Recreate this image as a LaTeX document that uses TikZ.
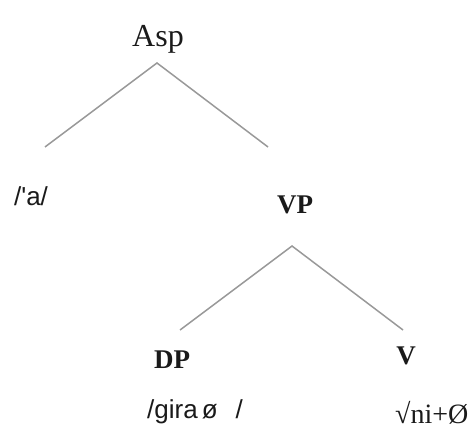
\documentclass[tikz,border=0pt]{standalone}
\usepackage{fontspec}
\setmainfont{Liberation Serif}
\newfontfamily\phonfont{Liberation Sans}
\usepackage{xcolor}
\usepackage{tikz}
\definecolor{ink}{HTML}{1A1A1A}
\definecolor{branchgray}{HTML}{999999}
\tikzset{
  branch/.style={draw=branchgray, line width=1.5pt},
  cat/.style={text=ink, font=\fontsize{27}{32}\selectfont\bfseries, anchor=base, inner sep=0pt},
  topcat/.style={text=ink, font=\fontsize{32}{38}\selectfont, anchor=base, inner sep=0pt},
  phon/.style={text=ink, font=\phonfont\fontsize{26}{31}\selectfont, inner sep=0pt},
  stem/.style={text=ink, font=\fontsize{28}{33}\selectfont, inner sep=0pt}
}

\begin{document}
\begin{tikzpicture}[x=1pt, y=-1pt]
  \useasboundingbox (0,0) rectangle (473,430);

  % branching points of the two subtrees
  \coordinate (asp-fork) at (157,63);
  \coordinate (asp-l) at (45,147);
  \coordinate (asp-r) at (268,147);
  \coordinate (vp-fork) at (292,246);
  \coordinate (vp-l) at (180,330);
  \coordinate (vp-r) at (403,330);

  \draw[branch] (asp-l) -- (asp-fork) -- (asp-r);
  \draw[branch] (vp-l) -- (vp-fork) -- (vp-r);

  \node[topcat] (asp) at (158,47) {Asp};
  \node[phon, anchor=base] (a) at (31,206) {/\textquotesingle a/};
  \node[cat] (vp) at (295,213) {VP};
  \node[cat] (dp) at (172,368) {DP};
  \node[cat] (v) at (406,364) {V};

  \node[phon, anchor=base west] (gira) at (147,418) {/gira\hspace{4pt}ø\hspace{18pt}/};
  \node[stem, anchor=base west] (ni) at (395,423) {√ni+Ø};
\end{tikzpicture}
\end{document}
